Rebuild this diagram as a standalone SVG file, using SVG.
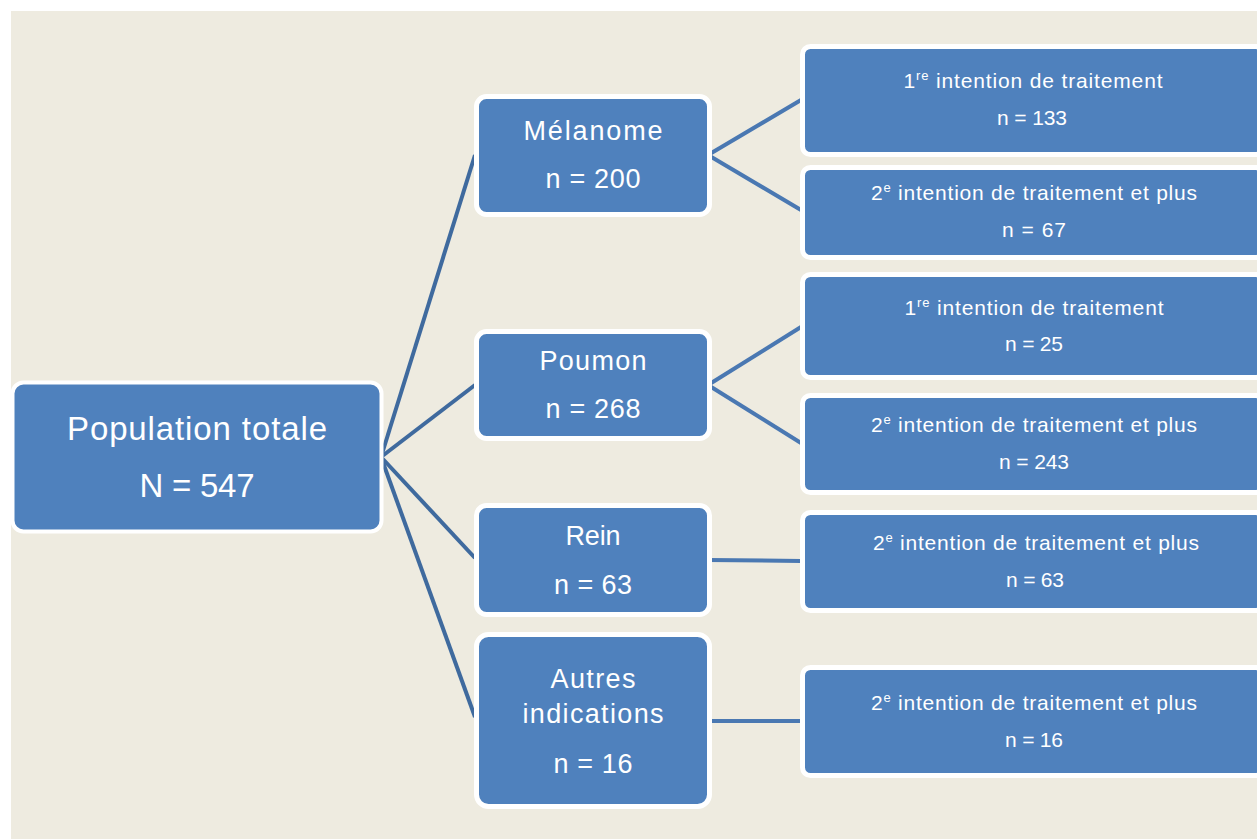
<svg xmlns="http://www.w3.org/2000/svg" width="1257" height="839" viewBox="0 0 1257 839">
<style>
.node{fill:#4F81BD;stroke:#FFFFFF;stroke-width:5}
.t{font-family:"Liberation Sans",Arial,sans-serif;fill:#FFFFFF;text-anchor:middle}
.big{font-size:33px}
.mid{font-size:27px}
.sm{font-size:21px}
.c1{stroke:#3F6A9E;stroke-width:4;fill:none}
.c2{stroke:#4A78B2;stroke-width:4;fill:none}
</style>
<rect x="0" y="0" width="1257" height="839" fill="#FFFFFF"/>
<rect x="11" y="11" width="1246" height="828" fill="#EEEBE0"/>
<g id="connectors">
<line class="c1" x1="381" y1="457" x2="475" y2="155"/>
<line class="c1" x1="381" y1="457" x2="475" y2="385"/>
<line class="c1" x1="381" y1="457" x2="475" y2="558"/>
<line class="c1" x1="381" y1="457" x2="475" y2="717"/>
<line class="c2" x1="708" y1="155" x2="801" y2="100"/>
<line class="c2" x1="708" y1="155" x2="801" y2="210"/>
<line class="c2" x1="708" y1="385" x2="801" y2="327"/>
<line class="c2" x1="708" y1="385" x2="801" y2="443"/>
<line class="c2" x1="708" y1="560" x2="801" y2="561"/>
<line class="c2" x1="708" y1="721" x2="801" y2="721"/>
</g>
<g id="population">
<rect class="node" x="12.5" y="382.5" width="369" height="149" rx="11" style="stroke-width:4"/>
<text class="t big" x="197" y="440" textLength="260">Population totale</text>
<text class="t big" x="197" y="497" textLength="115">N = 547</text>
</g>
<g id="melanome">
<rect class="node" x="476.5" y="96.5" width="233" height="118" rx="10"/>
<text class="t mid" x="593" y="140" textLength="139">Mélanome</text>
<text class="t mid" x="593" y="188" textLength="95">n = 200</text>
</g>
<g id="poumon">
<rect class="node" x="476.5" y="331.5" width="233" height="107" rx="10"/>
<text class="t mid" x="593" y="370" textLength="107">Poumon</text>
<text class="t mid" x="593" y="418" textLength="95">n = 268</text>
</g>
<g id="rein">
<rect class="node" x="476.5" y="505.5" width="233" height="109" rx="10"/>
<text class="t mid" x="593" y="545" textLength="55">Rein</text>
<text class="t mid" x="593" y="594" textLength="78">n = 63</text>
</g>
<g id="autres">
<rect class="node" x="476.5" y="634.5" width="233" height="172" rx="12"/>
<text class="t mid" x="593" y="688" textLength="85">Autres</text>
<text class="t mid" x="593" y="723" textLength="141">indications</text>
<text class="t mid" x="593" y="773" textLength="79">n = 16</text>
</g>
<g id="mel-1re">
<rect class="node" x="802.5" y="46.5" width="461" height="108" rx="8"/>
<text class="t sm" x="1033" y="88" textLength="259">1<tspan font-size="13" dy="-8">re</tspan><tspan dy="8"> intention de traitement</tspan></text>
<text class="t sm" x="1032" y="125" textLength="70">n = 133</text>
</g>
<g id="mel-2e">
<rect class="node" x="802.5" y="167.5" width="461" height="90" rx="8"/>
<text class="t sm" x="1034" y="200" textLength="326">2<tspan font-size="13" dy="-8">e</tspan><tspan dy="8"> intention de traitement et plus</tspan></text>
<text class="t sm" x="1034" y="237" textLength="64">n =  67</text>
</g>
<g id="pou-1re">
<rect class="node" x="802.5" y="274.5" width="461" height="103" rx="8"/>
<text class="t sm" x="1034" y="315" textLength="259">1<tspan font-size="13" dy="-8">re</tspan><tspan dy="8"> intention de traitement</tspan></text>
<text class="t sm" x="1034" y="351" textLength="58">n = 25</text>
</g>
<g id="pou-2e">
<rect class="node" x="802.5" y="395.5" width="461" height="97" rx="8"/>
<text class="t sm" x="1034" y="432" textLength="326">2<tspan font-size="13" dy="-8">e</tspan><tspan dy="8"> intention de traitement et plus</tspan></text>
<text class="t sm" x="1034" y="469" textLength="70">n = 243</text>
</g>
<g id="rein-2e">
<rect class="node" x="802.5" y="512.5" width="461" height="98" rx="8"/>
<text class="t sm" x="1036" y="550" textLength="326">2<tspan font-size="13" dy="-8">e</tspan><tspan dy="8"> intention de traitement et plus</tspan></text>
<text class="t sm" x="1035" y="587" textLength="58">n = 63</text>
</g>
<g id="autres-2e">
<rect class="node" x="802.5" y="667.5" width="461" height="108" rx="8"/>
<text class="t sm" x="1034" y="710" textLength="326">2<tspan font-size="13" dy="-8">e</tspan><tspan dy="8"> intention de traitement et plus</tspan></text>
<text class="t sm" x="1034" y="747" textLength="58">n = 16</text>
</g>
</svg>
